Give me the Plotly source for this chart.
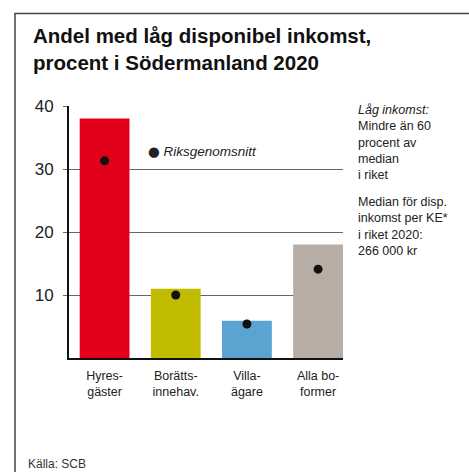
import plotly.graph_objects as go

categories = ["Hyresgäster", "Bostadsrättsinnehavare", "Villaägare", "Alla boformer"]
tick_labels = ["Hyres-<br>gäster", "Borätts-<br>innehav.", "Villa-<br>ägare", "Alla bo-<br>former"]
sodermanland = [38, 11, 5.9, 18]
riksgenomsnitt = [31.3, 10.0, 5.4, 14.1]
bar_colors = ["#E2001A", "#C2BC00", "#5BA3D0", "#B8ADA5"]

W, H = 469, 472
L, R, T, B = 69, 343, 106, 358
FONT = "Liberation Sans, Arial, sans-serif"


def px(x):
    return (x - L) / (R - L)


def py(y):
    return (B - y) / (B - T)


fig = go.Figure()
fig.add_trace(go.Bar(
    x=categories, y=sodermanland, marker=dict(color=bar_colors, line=dict(width=0)),
    width=0.7, showlegend=False, hoverinfo="y"))
fig.add_trace(go.Scatter(
    x=categories, y=riksgenomsnitt, mode="markers",
    marker=dict(color="#111111", size=9), showlegend=False, name="Riksgenomsnitt"))

annotations = [
    dict(text="<b>Andel med låg disponibel inkomst,<br>procent i Södermanland 2020</b>",
         x=px(31), y=py(22), xref="paper", yref="paper", xanchor="left", yanchor="top",
         align="left", showarrow=False, font=dict(size=20.5, color="#111", family=FONT)),
    dict(text="<i>Låg inkomst:</i><br>Mindre än 60<br>procent av<br>median<br>i riket",
         x=px(356), y=py(101), xref="paper", yref="paper", xanchor="left", yanchor="top",
         align="left", showarrow=False, font=dict(size=12.5, color="#222", family=FONT)),
    dict(text="Median för disp.<br>inkomst per KE*<br>i riket 2020:<br>266 000 kr",
         x=px(356), y=py(193), xref="paper", yref="paper", xanchor="left", yanchor="top",
         align="left", showarrow=False, font=dict(size=12.5, color="#222", family=FONT)),
    dict(text="<span style='font-family:DejaVu Sans'>●</span>&nbsp;<i>Riksgenomsnitt</i>",
         x=px(146), y=py(151), xref="paper", yref="paper", xanchor="left", yanchor="middle",
         align="left", showarrow=False, font=dict(size=13.5, color="#222", family=FONT)),
    dict(text="Källa: SCB", x=px(26), y=py(464), xref="paper", yref="paper",
         xanchor="left", yanchor="middle", showarrow=False,
         font=dict(size=12, color="#333", family=FONT)),
]

shapes = [
    dict(type="path", xref="paper", yref="paper",
         path=f"M {px(15)} {py(480)} L {px(15)} {py(13.5)} L {px(480)} {py(13.5)}",
         line=dict(color="#444", width=1.5)),
]

fig.update_layout(
    width=W, height=H,
    margin=dict(l=L, r=W - R, t=T, b=H - B, pad=0),
    paper_bgcolor="white", plot_bgcolor="white",
    font=dict(family=FONT, color="#222"),
    annotations=annotations, shapes=shapes,
    xaxis=dict(type="category", range=[-0.5, 3.35], tickvals=categories, ticktext=tick_labels,
               showgrid=False, showline=True, linecolor="#111", linewidth=2,
               ticks="", tickfont=dict(size=12.5, color="#222", family=FONT),
               ticklabelstandoff=5, zeroline=False, fixedrange=True),
    yaxis=dict(range=[0, 40], tickvals=[10, 20, 30, 40], showgrid=True, gridcolor="#666",
               gridwidth=1, showline=True, linecolor="#111", linewidth=2,
               ticks="outside", ticklen=4, tickcolor="#666", tickwidth=1,
               tickfont=dict(size=17, color="#222", family=FONT), ticklabelstandoff=6,
               zeroline=False, fixedrange=True),
    bargap=0.3,
)

fig.write_html("out.html", config={"displayModeBar": False},
               post_script="document.body.style.margin='0';document.body.style.padding='0';"
                           "document.body.style.overflow='hidden';")
